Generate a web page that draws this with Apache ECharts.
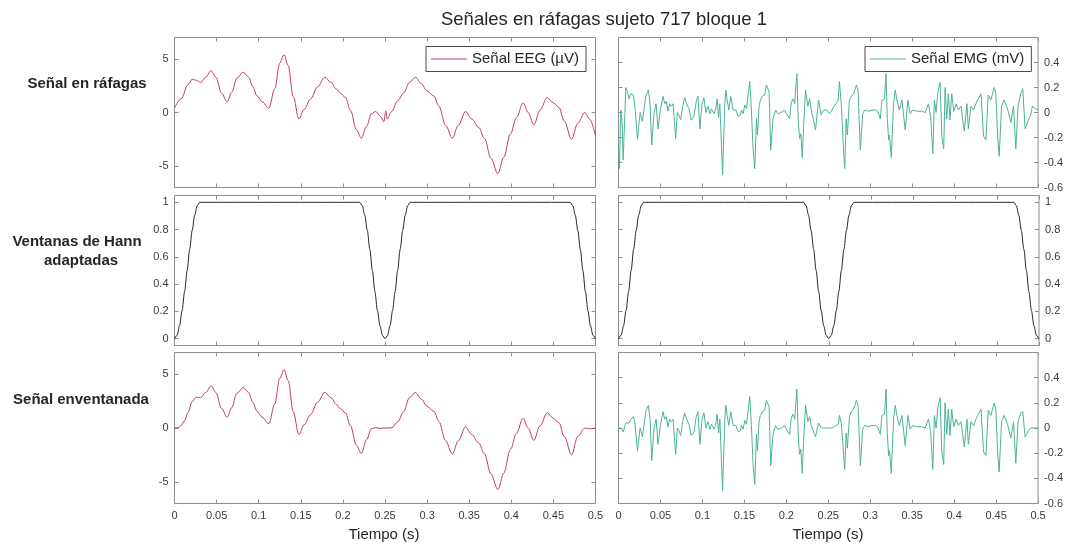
<!DOCTYPE html>
<html>
<head>
<meta charset="utf-8">
<script src="https://cdn.jsdelivr.net/npm/echarts@6/dist/echarts.min.js"></script>
<style>
html,body{margin:0;padding:0;background:#fff;}
#c{width:1066px;height:546px;}
</style>
</head>
<body>
<div id="c"></div>
<script>
// ---------- DATA ----------
const xTicks = [0, 0.05, 0.1, 0.15, 0.2, 0.25, 0.3, 0.35, 0.4, 0.45, 0.5];
const eegTicks = [-5, 0, 5];
const emgTicks = [-0.6, -0.4, -0.2, 0, 0.2, 0.4];
const hannTicks = [0, 0.2, 0.4, 0.6, 0.8, 1];

// EEG burst signal (µV)
const eegT = [0.000,0.008,0.016,0.021,0.026,0.031,0.037,0.0435,0.049,0.056,0.0625,0.068,0.074,0.0815,0.088,0.093,0.098,0.104,0.112,0.119,0.125,0.130,0.135,0.141,0.1477,0.154,0.1615,0.170,0.1785,0.186,0.192,0.197,0.203,0.209,0.216,0.222,0.228,0.234,0.2387,0.244,0.2486,0.251,0.2526,0.258,0.265,0.272,0.279,0.286,0.293,0.300,0.308,0.314,0.322,0.330,0.337,0.3456,0.353,0.3614,0.368,0.376,0.384,0.391,0.399,0.406,0.414,0.420,0.4268,0.434,0.4426,0.450,0.4564,0.463,0.4715,0.479,0.4873,0.493,0.500];
const eegV = [0.4,1.3,2.6,3.1,3.0,2.8,3.3,3.9,3.3,1.8,1.0,1.9,3.2,3.75,3.3,2.4,1.55,1.0,0.4,2.2,4.6,5.4,4.4,1.5,-0.6,0.3,1.25,2.4,3.3,2.8,2.2,1.8,1.4,0.2,-1.6,-2.4,-1.3,-0.1,0.1,-0.3,-0.85,0.15,-0.6,0.1,1.1,1.8,2.8,3.3,2.7,2.0,1.55,0.6,-1.2,-2.4,-1.2,0.1,-0.6,-1.4,-2.4,-4.3,-5.7,-4.2,-2.0,-0.5,0.9,0.0,-1.15,0.2,1.4,0.9,0.5,-0.8,-2.5,-1.0,0.0,-0.6,-2.2];

// EEG windowed signal (µV)
const eegWT = [0.000,0.004,0.008,0.012,0.016,0.021,0.026,0.031,0.037,0.0435,0.049,0.056,0.0625,0.068,0.074,0.0815,0.088,0.093,0.098,0.104,0.112,0.119,0.125,0.130,0.135,0.141,0.1477,0.154,0.1615,0.170,0.1785,0.186,0.192,0.197,0.203,0.209,0.216,0.222,0.228,0.234,0.2387,0.244,0.2486,0.2526,0.258,0.265,0.272,0.279,0.286,0.293,0.300,0.308,0.314,0.322,0.330,0.337,0.3456,0.353,0.3614,0.368,0.376,0.384,0.391,0.399,0.406,0.414,0.420,0.4268,0.434,0.4426,0.450,0.4564,0.463,0.4715,0.479,0.4873,0.493,0.500];
const eegWV = [0,0.04,0.21,0.69,1.43,2.46,2.87,2.8,3.3,3.9,3.3,1.8,1.0,1.9,3.2,3.75,3.3,2.4,1.55,1.0,0.4,2.2,4.6,5.4,4.4,1.5,-0.6,0.3,1.25,2.4,3.3,2.8,2.2,1.8,1.4,0.2,-1.6,-2.37,-1.09,-0.05,0.03,-0.03,0,0,0.02,0.55,1.49,2.8,3.3,2.7,2.0,1.55,0.6,-1.2,-2.4,-1.2,0.1,-0.6,-1.4,-2.4,-4.3,-5.7,-4.2,-2.0,-0.5,0.9,0.0,-1.15,0.2,1.4,0.9,0.5,-0.8,-2.49,-0.79,0,-0.08,0];

// Adapted Hann windows
const hannT = [0,0.003,0.006,0.009,0.012,0.015,0.018,0.021,0.024,0.027,0.030,0.220,0.223,0.226,0.229,0.232,0.235,0.238,0.241,0.244,0.247,0.250,0.253,0.256,0.259,0.262,0.265,0.268,0.271,0.274,0.277,0.280,0.470,0.473,0.476,0.479,0.482,0.485,0.488,0.491,0.494,0.497,0.500];
const hannV = [0,0.024,0.095,0.206,0.345,0.5,0.655,0.794,0.905,0.976,1,1,0.976,0.905,0.794,0.655,0.5,0.345,0.206,0.095,0.024,0,0.024,0.095,0.206,0.345,0.5,0.655,0.794,0.905,0.976,1,1,0.976,0.905,0.794,0.655,0.5,0.345,0.206,0.095,0.024,0];

// EMG burst signal (mV)
const emgT = [0.0000,0.0010,0.0028,0.0045,0.0056,0.0087,0.0105,0.0127,0.0148,0.0178,0.0195,0.0226,0.0258,0.0285,0.0325,0.0356,0.0376,0.0396,0.0424,0.0448,0.0471,0.0500,0.0531,0.0551,0.0570,0.0590,0.0610,0.0630,0.0650,0.0681,0.0701,0.0721,0.0741,0.0765,0.0788,0.0812,0.0840,0.0867,0.0899,0.0927,0.0947,0.0970,0.0994,0.1018,0.1042,0.1066,0.1090,0.1109,0.1137,0.1157,0.1176,0.1192,0.1208,0.1240,0.1267,0.1279,0.1295,0.1315,0.1338,0.1366,0.1398,0.1425,0.1454,0.1466,0.1485,0.1505,0.1525,0.1564,0.1584,0.1603,0.1624,0.1644,0.1656,0.1675,0.1691,0.1715,0.1742,0.1762,0.1794,0.1814,0.1841,0.1873,0.1900,0.1940,0.1980,0.2000,0.2039,0.2059,0.2078,0.2099,0.2126,0.2142,0.2158,0.2173,0.2190,0.2205,0.2229,0.2257,0.2277,0.2297,0.2316,0.2348,0.2384,0.2416,0.2443,0.2482,0.2514,0.2526,0.2546,0.2566,0.2594,0.2618,0.2633,0.2657,0.2684,0.2696,0.2713,0.2728,0.2752,0.2776,0.2803,0.2835,0.2855,0.2882,0.2910,0.2933,0.2981,0.3021,0.3061,0.3088,0.3120,0.3140,0.3171,0.3188,0.3203,0.3219,0.3230,0.3251,0.3278,0.3298,0.3318,0.3346,0.3378,0.3417,0.3449,0.3476,0.3504,0.3556,0.3615,0.3655,0.3694,0.3720,0.3746,0.3765,0.3785,0.3805,0.3833,0.3853,0.3876,0.3892,0.3912,0.3931,0.3951,0.3971,0.3995,0.4023,0.4050,0.4082,0.4121,0.4153,0.4169,0.4201,0.4232,0.4260,0.4280,0.4320,0.4351,0.4379,0.4406,0.4438,0.4477,0.4497,0.4518,0.4537,0.4565,0.4596,0.4636,0.4676,0.4708,0.4735,0.4762,0.4794,0.4818,0.4846,0.4866,0.4886,0.4913,0.4933,0.4972,0.5000];
const emgV = [-0.26,-0.45,0.02,-0.10,-0.38,0.20,0.17,0.11,0.15,0.14,0.05,-0.21,0.00,-0.07,0.13,0.18,0.07,-0.26,0.00,0.07,-0.13,0.02,0.13,0.07,0.09,0.01,0.07,0.05,0.07,-0.21,0.00,-0.02,-0.06,0.05,0.12,0.07,0.03,-0.06,-0.03,0.09,0.13,-0.13,0.06,0.12,0.00,0.05,-0.01,0.03,-0.01,0.02,0.11,-0.04,0.07,-0.50,0.07,0.18,0.10,0.02,0.13,0.02,0.02,-0.03,-0.02,0.02,-0.01,0.06,0.03,0.25,0.02,-0.28,-0.45,-0.05,-0.18,0.05,0.10,0.13,0.14,0.22,0.17,-0.30,-0.05,0.02,-0.01,0.00,0.02,-0.01,-0.05,0.08,0.11,0.07,0.31,-0.06,-0.21,-0.17,-0.36,-0.12,0.18,0.05,0.11,0.02,0.03,-0.14,0.10,-0.02,0.02,0.02,-0.01,-0.02,0.02,0.05,0.07,0.10,0.25,0.05,-0.33,-0.45,-0.05,-0.18,0.10,0.13,0.15,0.22,0.18,-0.30,-0.01,0.02,0.01,0.02,0.02,0.01,-0.05,0.10,0.11,0.31,-0.04,-0.22,-0.18,-0.36,0.07,0.18,0.10,0.02,0.10,-0.14,0.10,-0.01,0.02,0.01,0.01,0.00,0.07,-0.03,-0.33,0.10,0.00,0.16,0.24,-0.19,-0.29,0.20,-0.05,0.15,-0.06,0.15,0.01,0.07,0.02,0.05,-0.15,0.07,-0.13,0.05,0.02,0.07,0.10,0.15,-0.19,-0.22,0.14,0.10,0.20,0.15,-0.19,-0.35,0.05,0.10,0.03,-0.08,0.05,-0.29,0.05,0.15,0.19,-0.13,-0.12,-0.06,-0.02,0.05,0.03,0.02];
// EMG windowed signal (mV)
const emgWV = [0,0.00,0.00,-0.01,-0.03,0.04,0.05,0.04,0.07,0.09,0.04,-0.18,0.00,-0.07,0.13,0.18,0.07,-0.26,0.00,0.07,-0.13,0.02,0.13,0.07,0.09,0.01,0.07,0.05,0.07,-0.21,0.00,-0.02,-0.06,0.05,0.12,0.07,0.03,-0.06,-0.03,0.09,0.13,-0.13,0.06,0.12,0.00,0.05,-0.01,0.03,-0.01,0.02,0.11,-0.04,0.07,-0.50,0.07,0.18,0.10,0.02,0.13,0.02,0.02,-0.03,-0.02,0.02,-0.01,0.06,0.03,0.25,0.02,-0.28,-0.45,-0.05,-0.18,0.05,0.10,0.13,0.14,0.22,0.17,-0.30,-0.05,0.02,-0.01,0.00,0.02,-0.01,-0.05,0.08,0.11,0.07,0.31,-0.06,-0.21,-0.17,-0.36,-0.12,0.18,0.05,0.09,0.02,0.02,-0.07,0.04,0.00,0.00,0.00,0.00,0.00,0.00,0.01,0.02,0.03,0.10,0.03,-0.22,-0.33,-0.04,-0.16,0.09,0.13,0.15,0.22,0.18,-0.30,-0.01,0.02,0.01,0.02,0.02,0.01,-0.05,0.10,0.11,0.31,-0.04,-0.22,-0.18,-0.36,0.07,0.18,0.10,0.02,0.10,-0.14,0.10,-0.01,0.02,0.01,0.01,0.00,0.07,-0.03,-0.33,0.10,0.00,0.16,0.24,-0.19,-0.29,0.20,-0.05,0.15,-0.06,0.15,0.01,0.07,0.02,0.05,-0.15,0.07,-0.13,0.05,0.02,0.07,0.10,0.15,-0.19,-0.22,0.14,0.10,0.20,0.15,-0.19,-0.35,0.05,0.10,0.03,-0.08,0.05,-0.28,0.05,0.12,0.13,-0.07,-0.05,-0.02,0.00,0.01,0.00,0.00];

const titleText = 'Señales en ráfagas sujeto 717 bloque 1';
const rowLabels = [['Señal en ráfagas'], ['Ventanas de Hann', 'adaptadas'], ['Señal enventanada']];
const legendNames = ['Señal EEG (µV)', 'Señal EMG (mV)'];
const xName = 'Tiempo (s)';

// ---------- CHART ----------
const FONT = '"Liberation Sans", Arial, Helvetica, sans-serif';
const AX = '#8e8e8e';
const LBL = '#3a3a3a';
const EEG_C = '#c23f60';
const EMG_C = '#4bb39a';
const HANN_C = '#262626';

const zip = (t, v) => t.map((x, i) => [x, v[i]]);
const fmt = v => String(Math.round(v * 100) / 100);

const cols = [{ left: 174.5, width: 421 }, { left: 618.5, width: 420.5 }];
const rows = [{ top: 37.5, height: 150 }, { top: 195.5, height: 150 }, { top: 352.5, height: 151 }];
const yCfg = [
  [{ min: -7, max: 7, ticks: eegTicks }, { min: -0.6, max: 0.6, ticks: emgTicks }],
  [{ min: -0.05, max: 1.05, ticks: hannTicks }, { min: -0.05, max: 1.05, ticks: hannTicks }],
  [{ min: -7, max: 7, ticks: eegTicks }, { min: -0.6, max: 0.6, ticks: emgTicks }]
];

const grid = [], xAxis = [], yAxis = [];
for (let r = 0; r < 3; r++) {
  for (let c = 0; c < 2; c++) {
    const g = r * 2 + c;
    grid.push({ left: cols[c].left, width: cols[c].width, top: rows[r].top, height: rows[r].height,
      show: true, borderColor: AX, borderWidth: 1, backgroundColor: '#fff', containLabel: false });
    ['bottom', 'top'].forEach((pos, k) => {
      xAxis.push({ type: 'value', gridIndex: g, position: pos, min: 0, max: 0.5, interval: 0.05,
        axisLine: { show: false, onZero: false }, splitLine: { show: false },
        axisTick: { show: true, inside: true, length: 4, lineStyle: { color: AX } },
        axisLabel: { show: r === 2 && k === 0, formatter: fmt, margin: 7, color: LBL, fontSize: 11, fontFamily: FONT,
          showMinLabel: true, showMaxLabel: true }
      });
    });
    const yc = yCfg[r][c];
    ['left', 'right'].forEach((pos, k) => {
      yAxis.push({ type: 'value', gridIndex: g, position: pos, min: yc.min, max: yc.max,
        axisLine: { show: false, onZero: false }, splitLine: { show: false },
        axisTick: { show: true, inside: true, length: 4, lineStyle: { color: AX }, customValues: yc.ticks },
        axisLabel: { show: (c === 0 && k === 0) || (c === 1 && k === 1), customValues: yc.ticks, formatter: fmt,
          margin: 6, color: LBL, fontSize: 11, fontFamily: FONT }
      });
    });
  }
}

function line(g, name, data, color, smooth) {
  return { type: 'line', name: name, xAxisIndex: 2 * g, yAxisIndex: 2 * g, data: data,
    symbol: 'none', showSymbol: false, smooth: smooth, smoothMonotone: 'x', clip: true,
    lineStyle: { color: color, width: 1 }, itemStyle: { color: color }, animation: false };
}

const series = [
  line(0, legendNames[0], zip(eegT, eegV), EEG_C, 0.35),
  line(1, legendNames[1], zip(emgT, emgV), EMG_C, false),
  line(2, 'Ventana EEG', zip(hannT, hannV), HANN_C, 0.3),
  line(3, 'Ventana EMG', zip(hannT, hannV), HANN_C, 0.3),
  line(4, 'EEG enventanada', zip(eegWT, eegWV), EEG_C, 0.35),
  line(5, 'EMG enventanada', zip(emgT, emgWV), EMG_C, false)
];

const legendBase = { orient: 'horizontal', top: 46.5, icon: 'rect', itemWidth: 36, itemHeight: 1.2, itemGap: 4,
  padding: [5, 7, 5, 5], borderColor: '#4a4a4a', borderWidth: 1, backgroundColor: '#fff',
  textStyle: { fontSize: 15, color: '#262626', fontFamily: FONT, lineHeight: 15 }, selectedMode: false };

const txt = (text, x, y, size, weight) => ({ type: 'text', x: x, y: y, z: 10,
  style: { text: text, fontSize: size, fontWeight: weight || 'normal', fontFamily: FONT, fill: '#262626',
    align: 'center', verticalAlign: 'middle' } });

const graphic = [
  txt(titleText, 604, 20, 18.5),
  txt(rowLabels[0][0], 87, 84, 15, 'bold'),
  txt(rowLabels[1][0], 77, 242, 15, 'bold'),
  txt(rowLabels[1][1], 81, 261, 15, 'bold'),
  txt(rowLabels[2][0], 81, 400, 15, 'bold'),
  txt(xName, 384, 535, 15),
  txt(xName, 828, 535, 15)
];

const chart = echarts.init(document.getElementById('c'), null, { renderer: 'canvas' });
chart.setOption({
  backgroundColor: '#fff',
  animation: false,
  grid: grid, xAxis: xAxis, yAxis: yAxis, series: series,
  legend: [
    Object.assign({}, legendBase, { left: 426, data: [legendNames[0]],
      itemStyle: { color: EEG_C, borderWidth: 0 } }),
    Object.assign({}, legendBase, { left: 865, data: [legendNames[1]],
      itemStyle: { color: EMG_C, borderWidth: 0 } })
  ],
  graphic: graphic
});
</script>
</body>
</html>
